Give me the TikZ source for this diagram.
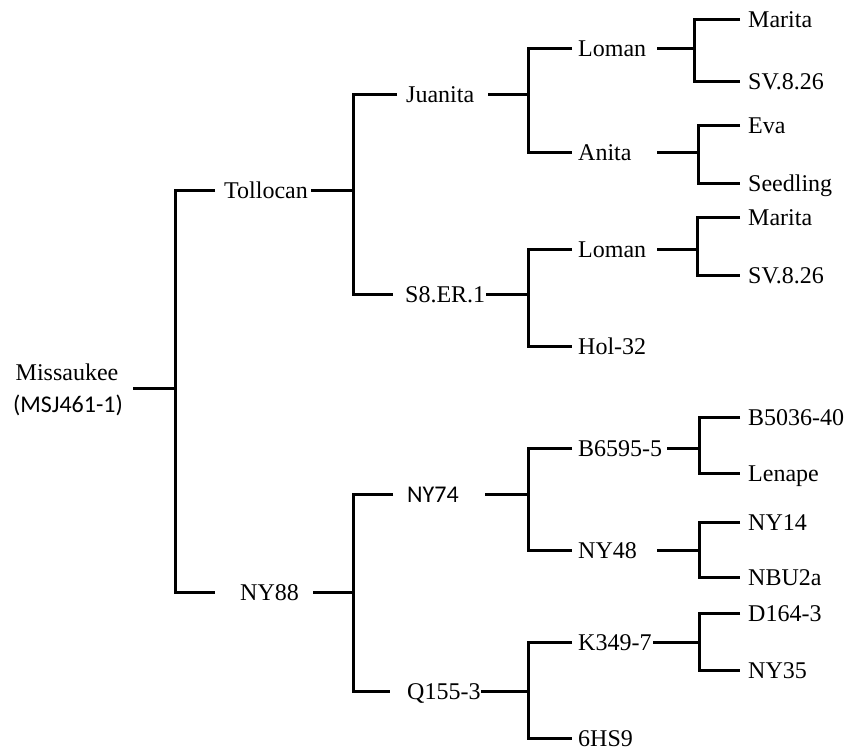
\documentclass[tikz,border=0pt]{standalone}
\usepackage{fontspec}
\setmainfont{Liberation Serif}
\newfontfamily\sansf{Carlito}
\begin{document}
\begin{tikzpicture}[x=1pt,y=-1pt,
  lab/.style={anchor=west, inner sep=0pt, text height=16pt, text depth=0pt, align=left, font=\rmfamily\fontsize{24}{28}\selectfont},
  sanslab/.style={lab, font=\sansf\fontsize{24}{28}\selectfont},
  conn/.style={line width=3pt, line join=miter, line cap=butt}]
\useasboundingbox[fill=white] (0,0) rectangle (865,751);

% root
\node[lab, anchor=center] (root) at (67,373) {Missaukee};
\node[sanslab, anchor=center] (msj) at (68,404) {(MSJ461-1)};
\coordinate (rootOut) at (133,388);
\coordinate (j0) at (175,388);

% level 1
\node[lab, text width=87pt] (tol) at (224,191) {\mbox{Tollocan}};
\node[lab, text width=73pt] (ny88) at (240,592) {\mbox{NY88}};

% level 2
\node[lab, text width=82pt] (jua) at (406,95) {\mbox{Juanita}};
\node[lab, text width=81pt] (s8) at (405,295) {\mbox{S8.ER.1}};
\node[sanslab, text width=78pt] (ny74) at (407,494) {\mbox{NY74}};
\node[lab, text width=74pt] (q155) at (407,691) {\mbox{Q155-3}};

% level 3
\node[lab, text width=79pt] (lom1) at (578,49) {\mbox{Loman}};
\node[lab, text width=79pt] (ani) at (578,153) {\mbox{Anita}};
\node[lab, text width=79pt] (lom2) at (578,250) {\mbox{Loman}};
\node[lab] (hol) at (578,347) {Hol-32};
\node[lab, text width=89pt] (b659) at (578,448) {\mbox{B6595-5}};
\node[lab, text width=79pt] (ny48) at (578,550) {\mbox{NY48}};
\node[lab, text width=75pt] (k349) at (578,642) {\mbox{K349-7}};
\node[lab] (hs9) at (578,738) {6HS9};

% level 4
\node[lab] (mar1) at (748,20) {Marita};
\node[lab] (sv1) at (748,82) {SV.8.26};
\node[lab] (eva) at (748,126) {Eva};
\node[lab] (see) at (748,184) {Seedling};
\node[lab] (mar2) at (748,218) {Marita};
\node[lab] (sv2) at (748,276) {SV.8.26};
\node[lab] (b503) at (748,417) {B5036-40};
\node[lab] (len) at (748,473) {Lenape};
\node[lab] (ny14) at (748,522) {NY14};
\node[lab] (nbu) at (748,577) {NBU2a};
\node[lab] (d164) at (748,613) {D164-3};
\node[lab] (ny35) at (748,670) {NY35};

% vertical positions of the brackets
\coordinate (v2) at (353,0);
\coordinate (v3) at (528,0);
\coordinate (v4a) at (694,0);
\coordinate (v4b) at (698,0);
\coordinate (v4c) at (697,0);
\coordinate (v4d) at (699,0);

% root bracket
\draw[conn] (rootOut) -- (j0);
\draw[conn] ([xshift=-9pt]tol.west) -| (j0) |- ([xshift=-25pt]ny88.west);

% level 1 brackets
\draw[conn] (tol.east) -- (tol.east -| v2);
\draw[conn] ([xshift=-9pt]jua.west) -| (tol.east -| v2) |- ([xshift=-12pt]s8.west);
\draw[conn] (ny88.east) -- (ny88.east -| v2);
\draw[conn] ([xshift=-14pt]ny74.west) -| (ny88.east -| v2) |- ([xshift=-17pt]q155.west);

% level 2 brackets
\draw[conn] (jua.east) -- (jua.east -| v3);
\draw[conn] ([xshift=-6pt]lom1.west) -| (jua.east -| v3) |- ([xshift=-6pt]ani.west);
\draw[conn] (s8.east) -- (s8.east -| v3);
\draw[conn] ([xshift=-6pt]lom2.west) -| (s8.east -| v3) |- ([xshift=-6pt]hol.west);
\draw[conn] (ny74.east) -- (ny74.east -| v3);
\draw[conn] ([xshift=-6pt]b659.west) -| (ny74.east -| v3) |- ([xshift=-6pt]ny48.west);
\draw[conn] (q155.east) -- (q155.east -| v3);
\draw[conn] ([xshift=-6pt]k349.west) -| (q155.east -| v3) |- ([xshift=-6pt]hs9.west);

% level 3 brackets
\draw[conn] (lom1.east) -- (lom1.east -| v4a);
\draw[conn] ([xshift=-8pt]mar1.west) -| (lom1.east -| v4a) |- ([xshift=-8pt]sv1.west);
\draw[conn] (ani.east) -- (ani.east -| v4b);
\draw[conn] ([xshift=-8pt]eva.west) -| (ani.east -| v4b) |- ([xshift=-8pt]see.west);
\draw[conn] (lom2.east) -- (lom2.east -| v4c);
\draw[conn] ([xshift=-8pt]mar2.west) -| (lom2.east -| v4c) |- ([xshift=-8pt]sv2.west);
\draw[conn] (b659.east) -- (b659.east -| v4d);
\draw[conn] ([xshift=-8pt]b503.west) -| (b659.east -| v4d) |- ([xshift=-8pt]len.west);
\draw[conn] (ny48.east) -- (ny48.east -| v4d);
\draw[conn] ([xshift=-8pt]ny14.west) -| (ny48.east -| v4d) |- ([xshift=-8pt]nbu.west);
\draw[conn] (k349.east) -- (k349.east -| v4d);
\draw[conn] ([xshift=-8pt]d164.west) -| (k349.east -| v4d) |- ([xshift=-8pt]ny35.west);
\end{tikzpicture}
\end{document}
